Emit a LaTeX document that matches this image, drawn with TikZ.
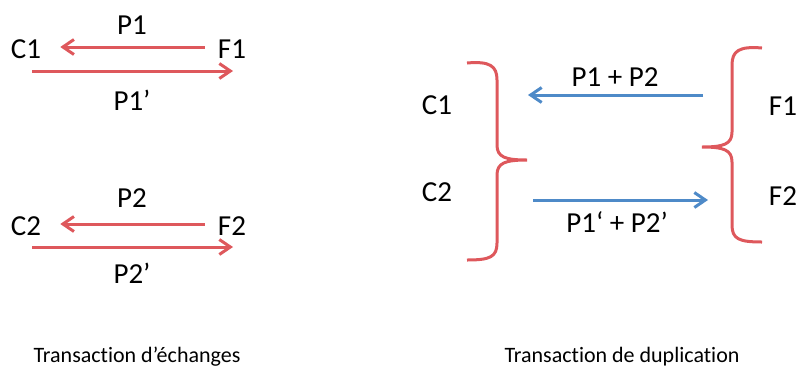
\documentclass[tikz,border=0pt]{standalone}
\usepackage{fontspec}
\setmainfont{Carlito}[Ligatures=NoCommon]
\usetikzlibrary{arrows.meta}

\definecolor{arrowred}{RGB}{222,88,92}
\definecolor{arrowblue}{RGB}{78,138,200}

\begin{document}
\begin{tikzpicture}[x=1pt, y=-1pt,
    lbl/.style={font=\fontsize{29}{32}\selectfont, inner sep=0pt},
    caption/.style={font=\fontsize{22}{26}\selectfont, inner sep=0pt, anchor=base},
    redarrow/.style={arrowred, line width=3pt, -{Straight Barb[length=11pt,width=15pt]}},
    bluearrow/.style={arrowblue, line width=3pt, -{Straight Barb[length=11pt,width=15pt]}},
    bracket/.style={arrowred, line width=3pt}]
    \useasboundingbox (0,0) rectangle (801,368);

    % Exchange transactions (left)
    \node[lbl] (xC1) at (26,49) {C1};
    \node[lbl] (xF1) at (232,49) {F1};
    \node[lbl] (xP1) at (132,25) {P1};
    \node[lbl] (xP1p) at (132,100) {P1’};
    \draw[redarrow] ([shift={(-13pt,2pt)}]xF1.west) -- ([shift={(19pt,2pt)}]xC1.east);
    \draw[redarrow] ([shift={(6pt,-22pt)}]xC1.center) -- ([shift={(1pt,-22pt)}]xF1.center);

    \node[lbl] (xC2) at (26,226) {C2};
    \node[lbl] (xF2) at (232,226) {F2};
    \node[lbl] (xP2) at (132,198) {P2};
    \node[lbl] (xP2p) at (132,273) {P2’};
    \draw[redarrow] ([shift={(-13pt,2pt)}]xF2.west) -- ([shift={(19pt,2pt)}]xC2.east);
    \draw[redarrow] ([shift={(6pt,-21pt)}]xC2.center) -- ([shift={(1pt,-21pt)}]xF2.center);

    % Duplication transaction (right)
    \node[lbl] (dC1) at (437,105) {C1};
    \node[lbl] (dC2) at (437,192) {C2};
    \node[lbl] (dF1) at (783,106) {F1};
    \node[lbl] (dF2) at (783,196) {F2};

    % Braces
    \coordinate (ltip) at (527,160);
    \coordinate (rtip) at (702,147);
    \draw[bracket] (467,63) .. controls (490,61) and (497,66) .. (497,80) -- (497,145)
        .. controls (497,157) and (505,160) .. (ltip)
        .. controls (505,160) and (497,163) .. (497,175) -- (497,243)
        .. controls (497,257) and (490,260) .. (467,260);
    \draw[bracket] (762,48) .. controls (739,46) and (732,51) .. (732,65) -- (732,132)
        .. controls (732,144) and (724,147) .. (rtip)
        .. controls (724,147) and (732,150) .. (732,162) -- (732,225)
        .. controls (732,239) and (739,242) .. (762,242);

    \draw[bluearrow] ([shift={(1pt,52pt)}]rtip) -- ([shift={(1pt,65pt)}]ltip);
    \draw[bluearrow] ([shift={(6pt,-40pt)}]ltip) -- ([shift={(6pt,-53pt)}]rtip);
    \node[lbl] (dP12) at (615,77) {P1 + P2};
    \node[lbl] (dP12p) at (617,222) {P1‘ + P2’};

    % Captions
    \node[caption] (capL) at (137,362) {Transaction d’échanges};
    \node[caption] (capR) at (622,362) {Transaction de duplication};
\end{tikzpicture}
\end{document}
